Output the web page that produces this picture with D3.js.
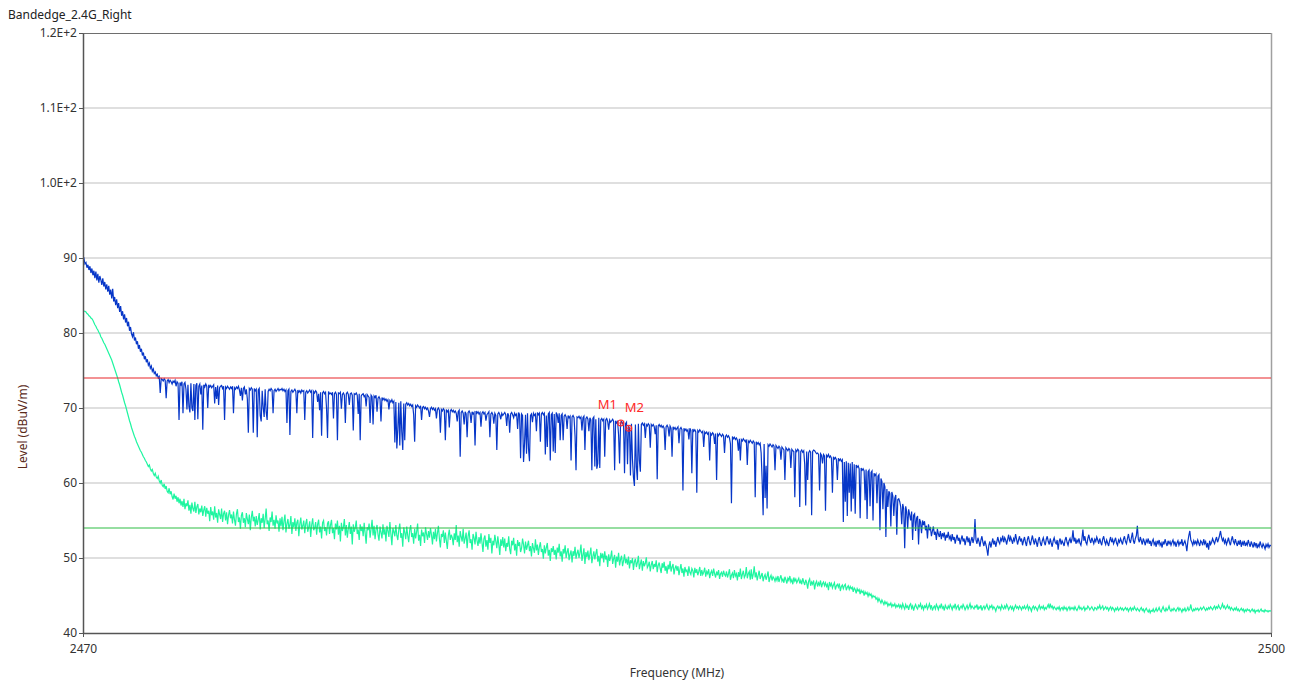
<!DOCTYPE html>
<html><head><meta charset="utf-8">
<script src="https://cdn.jsdelivr.net/npm/d3@7"></script>
<style>
html,body{margin:0;padding:0;background:#fff;}
svg text{font-family:"Noto Sans","Open Sans",sans-serif;}
</style></head>
<body>
<svg id="chart" width="1298" height="684"></svg>
<script>
// ---- data ----
const title = "Bandedge_2.4G_Right";
const xLabel = "Frequency (MHz)";
const yLabel = "Level (dBuV/m)";
const freqStart = 2470, freqStop = 2500; // sweep span, points evenly spaced
const xTicks = [2470, 2500];
const yTicks = [40, 50, 60, 70, 80, 90, 100, 110, 120];
const yTickLabels = ["40", "50", "60", "70", "80", "90", "1.0E+2", "1.1E+2", "1.2E+2"];
const limitPeak = 74;
const limitAvg = 54;
const markerNames = ["M1", "M2"];
const markerFreqs = [2483.58, 2483.78];
const markerLevels = [68.0, 67.3];
const peakTrace = [
89.6,89.9,89.2,89.4,88.7,89.1,88.4,88.9,88.0,88.6,87.7,88.3,87.3,88.2,87.0,87.9,86.7,87.6,87.1,86.4,87.3,86.2,86.8,85.8,86.5,
85.5,86.3,85.1,85.8,84.6,85.9,84.2,84.8,83.7,84.5,83.3,84.0,82.8,83.6,82.3,82.9,81.8,82.5,81.4,82.0,80.9,81.5,80.3,80.8,79.9,
79.5,80.1,79.0,79.4,78.5,78.9,77.9,78.4,77.5,77.9,77.0,77.4,76.5,76.9,76.1,76.5,75.7,76.0,75.3,75.6,74.9,75.2,74.6,74.8,74.3,
74.5,74.0,74.2,72.0,73.9,73.8,73.6,73.9,73.7,71.3,73.6,73.8,73.4,73.7,73.5,73.2,73.6,73.4,73.7,72.9,73.5,73.3,68.4,73.4,73.1,
73.5,69.3,73.2,73.4,72.5,69.8,73.1,70.2,69.4,73.3,70.0,69.6,73.2,68.4,73.0,73.3,68.5,72.9,73.2,71.8,73.0,67.1,73.1,72.8,73.2,
72.9,70.0,73.1,72.8,73.0,72.7,72.9,73.1,70.6,72.8,71.2,73.0,70.4,72.7,72.9,73.0,72.6,72.9,68.4,72.8,72.6,72.9,72.7,72.5,72.8,
72.6,72.9,69.3,72.7,72.5,72.8,72.6,72.9,72.4,71.6,72.7,71.0,72.6,72.8,71.8,72.5,71.2,66.7,72.6,72.4,72.7,72.5,66.7,72.6,72.3,
72.5,66.1,72.4,72.6,69.0,68.2,72.3,70.1,68.8,72.5,69.5,68.4,72.2,72.5,72.3,72.6,72.4,69.3,72.3,72.5,72.2,72.4,72.6,72.3,72.5,
72.4,72.6,72.3,72.5,72.2,72.4,68.0,72.3,72.5,66.4,72.2,72.4,72.1,72.3,72.5,72.2,69.3,72.4,72.1,72.3,72.0,72.4,72.2,72.3,68.4,
72.1,72.3,72.0,72.2,72.4,72.1,72.3,66.0,72.2,72.0,72.3,72.1,70.8,71.9,69.7,72.1,66.3,72.0,72.2,71.9,72.1,70.0,66.0,72.2,71.9,
72.0,71.8,72.1,68.6,71.9,72.1,71.8,65.7,72.0,71.9,72.1,69.9,71.8,72.0,71.7,68.0,71.9,72.1,71.8,70.4,71.9,72.0,71.7,67.0,71.9,
71.8,72.0,71.7,69.2,71.9,65.7,71.6,71.8,71.9,71.5,71.7,70.2,71.8,71.6,71.4,68.0,71.7,71.5,67.8,71.6,71.4,71.7,69.5,71.3,71.5,
71.2,68.2,71.4,71.1,71.3,71.0,71.2,70.9,71.1,69.8,71.0,70.8,71.1,70.7,70.9,65.4,70.8,64.6,67.2,70.7,65.0,70.9,66.8,64.4,70.6,
65.7,70.5,70.7,70.4,70.6,70.3,70.5,70.2,70.4,69.1,65.5,70.3,70.1,70.4,70.2,70.0,70.3,68.4,70.1,70.2,69.9,70.1,69.8,70.0,69.6,
68.8,69.9,70.1,69.8,70.0,69.7,69.9,68.6,69.8,70.0,69.7,66.7,69.8,69.6,69.9,69.7,65.7,69.8,69.5,69.7,67.4,69.6,69.8,69.5,69.7,
69.4,69.6,69.3,68.2,69.5,69.7,63.5,69.4,69.6,69.3,67.8,69.5,69.2,66.1,69.4,69.6,69.3,68.0,69.5,69.2,69.4,65.0,69.6,69.3,69.5,
69.2,69.4,67.5,69.3,69.5,69.2,69.4,68.3,69.1,69.3,69.5,66.1,69.2,69.4,69.1,67.9,69.3,69.0,64.4,69.2,69.4,69.1,68.5,69.3,69.0,
69.2,69.4,69.1,67.6,69.3,69.0,66.7,69.2,69.4,69.1,68.7,69.3,69.0,69.2,67.2,69.4,69.1,63.3,69.2,69.0,62.8,65.3,69.1,63.9,69.3,
64.6,62.9,69.0,69.2,68.1,69.3,69.0,69.2,66.9,69.4,69.1,69.3,65.5,69.2,69.4,69.1,69.3,63.8,69.0,64.8,69.2,69.4,63.0,69.1,69.3,
64.2,69.2,64.0,69.4,69.1,68.0,69.3,65.7,69.0,69.2,65.7,68.9,69.1,68.8,67.2,69.0,68.7,68.9,63.0,68.8,69.0,68.7,66.3,61.7,68.8,
68.7,68.9,68.6,68.8,67.0,68.7,68.9,64.4,68.6,68.8,68.5,66.9,68.7,68.4,61.7,68.6,68.8,62.2,68.5,61.9,62.6,68.7,62.0,68.4,68.6,
68.3,68.5,63.5,68.4,68.6,68.2,67.1,68.4,68.1,68.3,68.5,68.2,61.7,68.3,68.0,68.2,66.4,62.6,68.0,68.2,67.9,68.1,61.3,67.9,68.1,
62.5,67.6,67.3,61.0,67.9,63.2,60.8,59.6,67.8,62.1,60.4,67.9,63.0,61.5,67.8,68.0,67.7,67.9,66.0,67.8,67.6,67.9,67.7,64.7,67.8,
67.6,67.8,67.5,66.5,67.7,60.5,67.6,67.8,67.5,67.7,67.4,67.6,67.3,64.4,67.5,67.7,67.4,66.2,67.6,67.3,63.5,67.5,67.2,67.4,67.1,
67.3,67.5,65.3,67.2,67.4,67.1,59.0,67.3,67.0,67.2,66.9,67.1,65.8,67.3,67.0,61.3,67.2,66.9,67.1,66.8,58.7,67.0,66.8,67.1,66.9,
66.7,66.9,64.8,66.8,66.6,66.8,66.5,66.7,63.0,66.6,66.4,66.7,66.5,65.2,66.6,60.4,66.5,66.3,66.6,66.4,66.2,66.5,66.3,64.0,66.2,
66.4,66.1,66.3,66.0,65.2,57.3,66.2,65.9,66.1,65.8,66.0,65.7,64.3,65.9,63.0,65.8,65.6,65.9,65.7,65.5,65.8,62.4,65.6,65.4,65.7,
65.5,65.3,65.6,65.4,58.1,65.5,65.2,65.4,65.1,65.3,64.0,60.4,55.7,65.2,58.0,62.3,56.6,65.1,64.9,65.2,65.0,64.8,65.1,64.9,61.7,
65.0,64.8,64.6,64.9,64.7,63.1,64.8,64.6,64.4,60.4,64.7,64.5,64.3,64.6,64.4,62.0,64.5,64.3,64.2,58.1,64.4,64.2,64.5,64.3,56.8,
64.2,64.4,64.1,64.3,62.5,57.0,64.2,60.4,64.0,64.3,64.1,55.7,64.2,64.4,64.3,64.1,63.9,64.0,63.8,59.0,63.9,63.7,62.6,63.8,63.6,
56.3,63.7,63.5,63.8,63.4,63.6,63.3,58.7,63.5,63.2,63.4,63.1,60.4,63.3,63.0,63.2,62.9,63.1,54.8,62.8,57.5,62.9,55.6,62.7,58.7,
62.6,56.2,62.8,57.9,62.5,55.9,62.4,62.1,62.3,61.9,55.3,62.0,61.7,61.9,61.6,57.7,61.8,55.2,61.5,61.7,56.9,61.4,61.6,55.0,61.3,
61.0,61.2,57.3,60.9,61.1,53.7,60.6,60.2,56.5,60.0,59.5,52.8,59.2,56.8,58.9,58.6,54.2,58.8,58.3,55.6,58.0,58.4,53.1,57.8,57.9,
57.5,56.8,54.5,57.2,56.6,51.3,56.9,56.2,53.9,56.5,55.8,55.0,56.2,52.4,55.7,55.9,53.6,55.3,55.6,51.8,55.2,54.8,53.3,55.0,54.4,
54.9,53.7,54.3,52.6,54.5,53.8,54.0,52.9,53.6,54.2,53.1,53.5,52.4,53.9,53.2,52.8,53.6,52.5,53.3,52.9,53.4,52.3,53.1,52.7,53.5,
52.6,52.9,52.2,53.2,52.4,52.8,51.9,52.6,53.1,52.3,52.7,51.8,52.5,53.0,52.2,52.6,51.7,52.4,52.9,52.1,52.7,51.6,52.3,52.8,52.0,
52.6,55.2,52.4,51.9,52.7,52.2,51.5,52.4,52.9,52.1,51.6,52.3,51.8,51.2,50.3,51.7,52.2,51.4,52.0,52.6,51.8,52.3,51.5,52.1,52.8,
52.2,51.9,52.6,52.3,53.0,52.1,52.7,52.4,51.8,52.5,53.1,52.2,52.8,52.4,51.9,52.6,52.3,53.2,52.5,51.8,52.4,52.9,52.2,52.6,51.7,
52.3,52.8,52.1,51.6,52.5,52.9,52.2,51.7,52.4,53.0,52.3,51.8,52.6,52.1,51.5,52.4,52.8,52.0,51.6,52.3,52.7,52.1,51.7,52.5,52.9,
52.2,51.8,52.6,52.0,51.5,52.3,52.7,52.1,51.9,52.4,51.1,52.2,52.6,51.8,52.3,52.0,51.6,52.4,52.8,52.1,51.7,52.3,52.6,52.0,52.5,
53.7,52.2,52.7,51.9,52.4,52.1,52.6,52.0,51.7,52.5,53.8,52.3,52.9,52.1,51.8,52.6,53.1,52.4,52.0,52.7,52.3,51.9,52.5,52.2,52.8,
52.4,51.9,52.6,52.1,51.7,52.5,52.9,52.2,51.8,52.4,52.0,51.6,52.3,52.8,52.1,52.5,51.9,52.3,52.7,52.0,51.7,52.4,52.1,52.6,52.2,
51.8,52.5,52.9,52.2,51.9,52.6,53.2,52.4,52.0,52.7,53.4,52.3,51.9,52.6,53.0,54.3,52.5,52.1,52.8,52.3,51.8,52.6,52.2,51.7,52.4,
52.1,52.6,51.9,52.3,51.6,52.2,52.5,51.8,52.1,51.5,52.3,51.9,52.4,51.7,52.0,51.4,52.2,51.8,52.5,52.0,51.6,52.3,51.9,52.2,51.7,
52.1,52.4,51.8,52.2,51.5,52.0,52.3,51.7,52.1,51.9,52.5,51.6,52.0,52.3,51.8,50.9,52.2,53.0,53.6,52.4,52.1,51.7,52.3,51.9,52.2,
51.8,52.4,52.0,51.6,52.3,52.1,51.7,52.5,51.9,52.2,51.4,52.0,51.1,52.3,51.8,52.1,52.6,52.2,51.9,52.4,52.8,52.1,52.5,53.0,53.6,
52.8,52.3,52.6,52.0,52.4,51.8,52.2,52.7,52.1,51.7,52.4,52.9,52.2,51.9,52.5,52.0,51.6,52.3,51.8,52.4,51.5,52.1,51.8,52.3,51.6,
52.0,51.7,52.4,51.9,51.5,52.2,51.8,51.4,52.1,51.6,52.0,51.3,51.8,51.5,52.2,51.7,51.4,51.9,51.6,51.2,51.8,51.5,51.9,51.4,51.7,51.6];
const avgTrace = [
83.0,82.9,82.9,82.8,82.6,82.5,82.3,82.2,82.0,81.9,81.7,81.4,81.1,80.9,80.6,80.4,80.1,79.9,79.5,79.3,79.0,78.7,78.5,78.2,77.9,
77.6,77.3,77.0,76.7,76.4,76.0,75.6,75.2,74.8,74.4,74.0,73.5,73.1,72.6,72.1,71.7,71.2,70.7,70.3,69.8,69.3,68.8,68.3,67.9,67.4,
67.0,66.6,66.2,65.9,65.5,65.2,64.9,64.6,64.3,64.1,63.8,63.5,63.3,63.0,62.8,62.5,62.2,62.4,61.9,61.6,61.8,61.3,61.0,61.3,60.8,
60.6,60.9,60.3,60.0,60.4,59.7,59.5,59.9,59.2,59.6,58.9,58.7,59.3,58.5,58.9,58.2,57.8,58.6,57.9,58.3,57.5,58.1,57.3,57.9,57.0,
57.6,56.8,57.9,56.5,57.3,56.9,57.7,56.3,57.1,55.9,57.4,56.6,56.2,57.5,56.0,56.8,57.2,55.8,56.6,56.1,57.0,55.6,56.4,56.9,55.5,
56.7,55.9,56.3,54.9,56.8,55.7,56.2,55.1,56.9,55.4,56.0,54.7,56.5,55.8,55.2,56.6,54.8,55.9,56.3,55.0,56.1,54.5,55.7,56.4,55.3,
55.8,54.6,56.2,55.1,54.3,55.9,56.5,54.8,55.4,53.9,55.7,56.1,54.7,55.3,54.1,56.0,55.2,54.5,55.8,53.7,55.4,56.3,54.9,55.5,54.2,
55.6,54.4,55.1,56.0,53.8,55.3,54.7,55.9,54.0,55.2,56.6,54.5,55.0,53.6,55.4,54.8,56.2,54.3,55.1,53.9,55.7,54.6,55.0,53.5,55.3,
54.2,55.5,53.7,54.9,55.8,53.4,54.6,55.2,53.9,54.4,55.6,53.2,54.8,54.1,55.3,53.6,54.7,55.1,52.9,54.5,55.4,53.8,54.3,55.0,53.3,
54.6,55.2,53.5,54.1,54.9,52.8,54.4,55.3,53.7,54.0,54.8,53.1,54.5,55.1,53.4,54.2,52.6,54.7,55.0,53.6,54.1,53.0,54.6,54.9,53.2,
54.4,55.1,53.3,54.0,52.5,54.6,53.8,55.0,53.1,54.3,52.2,54.7,53.6,54.1,55.2,53.0,54.4,52.7,53.9,54.8,53.2,54.2,51.8,54.5,53.5,
54.0,55.0,53.2,53.8,52.4,54.5,53.6,54.2,52.9,54.7,53.3,51.9,54.1,53.7,54.6,52.7,53.9,55.1,53.0,54.3,52.5,53.8,54.4,53.1,52.3,
54.2,53.4,52.6,54.5,53.1,53.9,52.2,54.3,53.6,52.8,54.8,53.2,51.7,54.0,53.5,52.9,54.4,53.0,52.4,53.8,54.6,52.7,53.3,51.5,54.1,
53.4,52.5,54.2,53.0,52.1,53.7,54.4,52.8,53.3,51.9,53.9,52.6,53.5,54.6,52.3,53.1,51.6,53.8,52.9,53.4,52.0,54.1,53.2,52.4,53.6,
52.7,54.0,53.1,51.8,53.5,52.5,53.9,52.2,53.3,54.3,52.6,51.4,53.2,52.8,53.7,52.0,53.4,52.3,51.2,53.0,53.8,52.4,53.1,52.7,51.7,
53.3,52.4,54.4,52.1,53.0,51.5,53.6,52.8,52.2,53.9,51.9,52.6,53.4,51.3,52.9,53.7,52.0,52.5,51.1,53.2,52.7,51.8,53.5,52.3,51.6,
52.8,51.9,53.3,52.1,50.8,52.6,53.0,51.5,52.4,51.1,53.2,52.0,52.7,50.6,52.3,51.7,53.1,52.2,51.3,52.9,51.8,50.4,52.5,51.6,52.8,
51.4,52.6,50.9,52.0,51.5,52.9,51.2,50.5,52.3,51.7,52.7,51.0,51.9,50.3,52.4,51.6,52.1,50.8,51.3,52.6,51.8,50.6,52.2,51.1,51.7,
52.3,50.9,51.6,50.2,52.0,51.3,50.7,52.5,51.0,51.8,50.4,51.5,52.1,50.8,51.2,49.9,51.7,50.6,51.4,52.0,50.3,51.1,49.6,51.3,50.8,
51.6,50.4,51.1,49.8,51.4,50.7,51.9,50.2,50.9,49.5,51.2,50.6,51.7,50.0,50.8,51.3,49.7,50.5,51.0,49.4,50.9,50.3,51.5,49.9,50.6,
51.1,50.0,50.7,51.8,49.6,50.4,51.3,49.2,50.8,50.1,51.0,49.7,50.5,51.4,49.3,50.2,50.9,49.8,50.6,51.2,49.5,50.3,48.9,50.7,50.0,
50.6,49.4,50.9,49.8,50.3,48.8,50.5,49.6,50.1,51.0,49.2,49.9,50.4,48.7,50.2,49.5,50.7,49.0,49.8,50.3,48.9,49.6,50.5,49.3,49.9,
49.1,50.2,48.6,49.7,49.3,50.0,48.4,49.5,49.9,48.8,49.4,50.3,48.5,49.2,49.8,48.3,49.6,48.9,49.3,50.1,48.7,49.0,49.5,48.2,49.1,
49.6,48.5,49.2,48.8,49.7,48.1,49.0,49.4,48.6,48.0,49.3,48.7,49.5,48.3,48.9,47.9,49.1,48.5,49.6,48.2,48.8,49.2,47.8,48.6,49.0,
48.3,48.9,47.7,48.5,49.2,48.0,48.6,47.5,48.8,48.2,48.4,47.6,48.9,48.1,47.8,48.6,48.3,47.4,48.7,48.0,48.5,47.7,48.2,48.8,47.6,
48.4,47.8,48.1,48.7,47.5,48.2,47.9,48.5,47.3,48.0,48.3,47.6,48.6,47.9,47.4,48.2,47.7,48.4,47.2,47.9,48.1,47.5,48.3,47.8,47.6,
48.2,47.4,47.9,48.5,47.1,47.7,48.0,47.3,48.4,47.6,47.9,47.0,48.1,47.5,48.6,47.2,47.8,48.3,47.4,47.7,48.8,47.3,47.9,48.2,47.1,
48.5,47.2,47.8,48.9,47.4,48.1,47.0,47.7,48.3,47.2,47.6,48.0,46.9,47.5,47.8,47.1,47.6,48.2,46.8,47.4,47.7,47.0,47.5,47.3,46.9,
47.4,47.0,47.6,46.8,47.3,47.7,46.9,47.2,46.7,47.5,47.1,46.6,47.3,47.0,47.6,46.8,47.1,46.5,47.4,46.9,47.2,46.7,47.0,47.3,46.6,
47.0,46.5,47.3,46.8,46.4,47.1,46.7,45.9,46.9,47.2,46.3,46.8,46.5,47.0,45.8,46.6,46.9,46.2,46.7,46.4,47.0,46.1,46.6,46.8,46.3,
46.7,46.2,46.5,45.7,46.8,46.3,46.6,46.0,46.4,46.7,45.8,46.3,46.5,46.1,46.6,45.6,46.2,46.4,45.9,46.3,46.5,45.7,46.1,46.3,45.8,
46.2,45.9,46.1,45.5,46.0,45.8,45.3,45.9,45.6,45.8,45.2,45.7,45.4,45.6,45.0,45.5,45.2,45.4,44.9,45.3,45.0,45.2,44.7,45.0,44.8,
44.9,44.5,44.7,44.2,44.6,44.3,44.0,44.4,44.1,43.8,44.2,43.9,44.1,43.6,43.9,43.7,44.0,43.5,43.8,43.6,43.9,43.4,43.7,43.5,43.8,
43.4,43.7,43.3,43.9,43.5,43.2,43.8,43.4,43.6,43.1,43.7,43.9,43.3,43.6,43.0,43.5,43.8,43.4,43.2,43.7,43.5,43.9,43.3,43.6,43.1,
43.6,43.4,43.8,43.2,43.5,43.9,43.3,43.7,43.0,43.4,43.6,43.2,43.8,43.5,43.1,43.6,43.4,43.9,43.3,43.5,43.0,43.7,43.4,43.2,43.6,
43.3,43.8,43.5,43.1,43.6,43.4,43.9,43.2,43.5,43.7,43.0,43.4,43.6,43.3,43.8,43.5,43.1,43.4,43.7,43.2,43.5,43.9,43.3,43.6,43.4,
43.2,43.6,43.4,43.8,43.1,43.5,43.3,43.7,43.0,43.4,43.6,43.2,43.5,43.8,43.3,43.1,43.6,43.4,43.7,43.2,43.5,43.3,42.9,43.4,43.6,
43.3,43.5,43.1,43.7,43.4,43.2,43.6,43.3,43.8,43.5,43.1,43.4,43.6,43.2,43.5,43.0,43.4,43.7,43.3,43.5,43.2,43.6,43.4,43.1,43.5,
43.3,43.6,43.2,43.4,43.7,43.1,43.5,43.3,42.9,43.4,43.6,43.2,43.5,43.3,43.0,43.4,43.7,43.2,43.5,43.3,43.6,43.1,43.4,43.2,43.5,
43.8,43.3,43.9,43.4,43.6,43.2,43.5,43.3,43.1,43.4,43.2,43.5,43.0,43.3,43.4,43.1,43.5,43.2,43.4,43.0,43.3,43.5,43.1,43.4,43.2,
43.4,43.1,43.5,43.2,43.0,43.3,43.6,43.2,43.4,43.1,43.3,43.5,43.0,43.3,43.2,43.6,43.4,43.1,43.3,43.5,43.2,43.0,43.4,43.3,43.1,
43.5,43.3,43.7,43.2,43.4,43.6,43.1,43.3,43.5,43.2,43.4,43.0,43.3,43.5,43.1,43.4,43.2,42.9,43.3,43.1,43.4,43.0,43.2,43.4,43.1,
43.3,43.0,43.2,43.4,43.1,43.3,42.9,43.2,43.4,43.0,43.3,43.1,43.5,43.2,43.0,43.3,43.1,42.9,43.2,43.4,43.0,43.2,42.8,43.1,43.3,
43.0,42.8,43.1,42.7,43.0,42.9,43.2,42.8,43.0,43.3,42.9,43.1,43.4,43.0,42.8,43.2,43.5,43.1,42.9,43.3,43.0,43.2,43.6,43.1,42.9,
43.2,43.0,43.3,43.1,42.9,43.2,43.4,43.0,43.3,43.1,42.8,43.2,43.0,43.3,42.9,43.1,43.4,43.0,43.2,43.8,43.1,42.9,43.2,43.0,43.3,
43.1,43.3,43.0,43.2,43.4,43.1,43.3,43.5,43.2,43.0,43.3,43.1,43.4,43.2,43.5,43.3,43.1,43.4,43.6,43.2,43.5,43.3,43.7,43.4,43.2,
43.5,43.9,43.4,43.6,43.2,43.4,43.7,43.3,43.5,43.1,43.4,43.2,43.0,43.3,43.1,43.4,43.0,43.2,42.9,43.1,43.3,43.0,43.2,42.8,43.1,
42.9,43.2,43.0,43.1,42.8,43.0,43.2,42.9,43.1,42.7,43.0,42.9,43.1,42.8,43.0,43.2,42.9,43.0,42.8,43.1,42.9,43.0,42.8,43.0,42.9,43.0];

// ---- chart ----
const svg = d3.select("#chart");
const pL = 83, pR = 1271, pT = 33, pB = 633;
const x = d3.scaleLinear().domain([freqStart, freqStop]).range([pL, pR]);
const y = d3.scaleLinear().domain([40, 120]).range([pB, pT]);
const textCol = "#333";

// gridlines
svg.append("g").selectAll("line").data(yTicks.filter(v => v > 40 && v < 120)).join("line")
  .attr("x1", pL).attr("x2", pR)
  .attr("y1", d => y(d)).attr("y2", d => y(d))
  .attr("stroke", "#d4d4d4").attr("stroke-width", 1.5);

// frame top/right
svg.append("line").attr("x1", pL).attr("x2", pR).attr("y1", pT + 0.5).attr("y2", pT + 0.5)
  .attr("stroke", "#6e6e6e").attr("stroke-width", 1);
svg.append("line").attr("x1", pR + 0.5).attr("x2", pR + 0.5).attr("y1", pT).attr("y2", pB)
  .attr("stroke", "#a0a0a0").attr("stroke-width", 1.5);

// traces: evenly spaced sweep points between freqStart and freqStop
const mk = data => {
  const idx = d3.scaleLinear().domain([0, data.length - 1]).range([freqStart, freqStop]);
  return data.map((v, i) => [idx(i), v]);
};
const line = d3.line().x(d => x(d[0])).y(d => y(d[1]));
svg.append("clipPath").attr("id", "pc").append("rect")
  .attr("x", pL).attr("y", pT).attr("width", pR - pL).attr("height", pB - pT);
const plot = svg.append("g").attr("clip-path", "url(#pc)");
plot.append("path").datum(mk(avgTrace)).attr("d", line)
  .attr("fill", "none").attr("stroke", "#1ef5a0").attr("stroke-width", 1.2);
plot.append("path").datum(mk(peakTrace)).attr("d", line)
  .attr("fill", "none").attr("stroke", "#0636c8").attr("stroke-width", 1.2);

// limit lines
plot.append("line").attr("x1", pL).attr("x2", pR)
  .attr("y1", y(limitPeak)).attr("y2", y(limitPeak))
  .attr("stroke", "#e8262a").attr("stroke-width", 1.2);
plot.append("line").attr("x1", pL).attr("x2", pR)
  .attr("y1", y(limitAvg)).attr("y2", y(limitAvg))
  .attr("stroke", "#2ebd45").attr("stroke-width", 1.2);

// markers
const mg = svg.append("g");
markerNames.forEach((name, i) => {
  const cx = x(markerFreqs[i]), cy = y(markerLevels[i]);
  mg.append("circle").attr("cx", cx).attr("cy", cy).attr("r", 3)
    .attr("fill", "none").attr("stroke", "#ff2a2a").attr("stroke-width", 1.2);
  mg.append("path").attr("d", `M${cx-3},${cy}H${cx+3}M${cx},${cy-3}V${cy+3}`)
    .attr("stroke", "#ff2a2a").attr("stroke-width", 0.8);
  mg.append("text").attr("x", i === 0 ? cx - 23 : cx - 4).attr("y", i === 0 ? cy - 14 : cy - 16)
    .attr("fill", "#ff2a2a").attr("font-size", 13).text(name);
});

// axes
const yAxis = d3.axisLeft(y).tickValues(yTicks).tickSize(4).tickSizeOuter(0)
  .tickFormat((d, i) => yTickLabels[i]);
const gy = svg.append("g").attr("transform", `translate(${pL},0)`).call(yAxis);
gy.select(".domain").attr("stroke", "#555").attr("stroke-width", 1.5);
gy.selectAll(".tick line").attr("stroke", "#555");
gy.selectAll("text").attr("font-size", 12).attr("fill", textCol).attr("x", -6);

const xAxis = d3.axisBottom(x).tickValues(xTicks).tickSize(4).tickSizeOuter(0).tickFormat(d3.format("d"));
const gx = svg.append("g").attr("transform", `translate(0,${pB})`).call(xAxis);
gx.select(".domain").attr("stroke", "#555").attr("stroke-width", 1.5);
gx.selectAll(".tick line").attr("stroke", "#555");
gx.selectAll("text").attr("font-size", 12).attr("fill", textCol).attr("y", 11);

// titles
svg.append("text").attr("x", 8).attr("y", 19).attr("font-size", 12).attr("fill", "#222").text(title);
svg.append("text").attr("x", (pL + pR) / 2).attr("y", 677).attr("text-anchor", "middle")
  .attr("font-size", 12).attr("fill", textCol).text(xLabel);
svg.append("text").attr("transform", "translate(27,427) rotate(-90)").attr("text-anchor", "middle")
  .attr("font-size", 12).attr("fill", "#5a2a1a").text(yLabel);
</script>
</body></html>
